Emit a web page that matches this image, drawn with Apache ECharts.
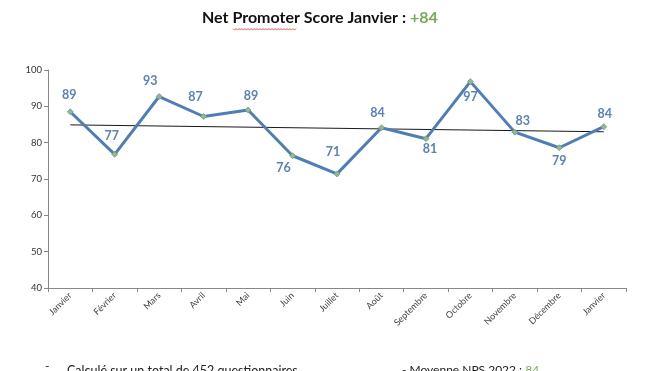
<!DOCTYPE html>
<html>
<head>
<meta charset="utf-8">
<script src="https://cdn.jsdelivr.net/npm/echarts@6/dist/echarts.min.js"></script>
<style>
html,body{margin:0;padding:0;background:#fff;}
#c{width:660px;height:371px;}
</style>
</head>
<body>
<div id="c"></div>
<script>
// Data
var months = ['Janvier','Février','Mars','Avril','Mai','Juin','Juillet','Août','Septembre','Octobre','Novembre','Décembre','Janvier'];
var npsValues = [88.5, 76.8, 92.7, 87.2, 89.0, 76.4, 71.4, 84.1, 81.1, 96.8, 82.9, 78.6, 84.4];
var trendValues = [84.9, null, null, null, null, null, null, null, null, null, null, null, 83.0];
var yTicks = [40, 50, 60, 70, 80, 90, 100];
var titleText = 'Net Promoter Score Janvier : ';
var titleScore = '+84';
var noteLeft = 'Calculé sur un total de 452 questionnaires';
var noteRightText = '- Moyenne NPS 2022 : ';
var noteRightValue = '84';

// Label offsets (style, not data)
var labelOffsets = [[-1,-17],[-3,-18],[-9,-16],[-8,-20],[3,-14],[-9,12],[-4,-22],[-4,-15],[4,10],[0,15],[8,-11],[0,13],[1,-13]];

var FONT = 'Lato, "Open Sans", sans-serif';
var chart = echarts.init(document.getElementById('c'), null, {renderer:'canvas'});

var lineData = npsValues.map(function(v, i){
  return {
    value: v,
    label: {offset: labelOffsets[i]}
  };
});

// red wavy underline under "Promoter"
var wave = [];
for (var x = 233, k = 0; x <= 297; x += 1.5, k++) {
  wave.push([x, 28.5 + (k % 2 === 0 ? 0 : 1.6)]);
}

chart.setOption({
  backgroundColor: '#ffffff',
  animation: false,
  title: {
    text: '{a|' + titleText + '}{g|' + titleScore + '}',
    left: 202,
    top: 10,
    padding: 0,
    textStyle: {
      rich: {
        a: {fontFamily: FONT, fontSize: 16, fontWeight: 'bold', color: '#111111'},
        g: {fontFamily: FONT, fontSize: 16, fontWeight: 'bold', color: '#77AB59'}
      }
    }
  },
  grid: {left: 48, right: 34, top: 70, bottom: 83, containLabel: false},
  xAxis: {
    type: 'category',
    data: months,
    boundaryGap: true,
    axisLine: {lineStyle: {color: '#888888', width: 1}},
    axisTick: {show: true, length: 4, lineStyle: {color: '#888888'}, alignWithLabel: false},
    axisLabel: {
      rotate: 45,
      interval: 0,
      fontFamily: FONT,
      fontSize: 9,
      color: '#404040',
      margin: 6
    },
    splitLine: {show: false}
  },
  yAxis: {
    type: 'value',
    min: yTicks[0],
    max: yTicks[yTicks.length - 1],
    interval: 10,
    axisLine: {show: true, lineStyle: {color: '#888888', width: 1}},
    axisTick: {show: true, length: 4, lineStyle: {color: '#888888'}},
    axisLabel: {fontFamily: FONT, fontSize: 9.5, color: '#333333', margin: 6},
    splitLine: {show: false}
  },
  series: [
    {
      name: 'Tendance',
      type: 'line',
      data: trendValues,
      connectNulls: true,
      symbol: 'none',
      lineStyle: {color: '#1a1a1a', width: 1},
      z: 3,
      silent: true
    },
    {
      name: 'NPS',
      type: 'line',
      data: lineData,
      symbol: 'diamond',
      symbolSize: 6,
      itemStyle: {color: '#93B88C', borderColor: '#6E9A8A', borderWidth: 0.8},
      lineStyle: {color: '#4F7DB8', width: 3},
      z: 4,
      label: {
        show: true,
        position: 'inside',
        formatter: function(p){ return Math.round(p.value); },
        fontFamily: FONT,
        fontSize: 12.5,
        fontWeight: 'bold',
        color: '#5A82B8'
      }
    }
  ],
  graphic: [
    {
      type: 'polyline',
      shape: {points: wave},
      style: {stroke: '#D83A3A', lineWidth: 0.8, fill: null},
      silent: true
    },
    {
      type: 'text',
      left: 45,
      top: 360,
      style: {text: '-', font: '12px ' + FONT, fill: '#222222'}
    },
    {
      type: 'text',
      left: 67,
      top: 364,
      style: {text: noteLeft, font: '12.5px ' + FONT, fill: '#222222'}
    },
    {
      type: 'text',
      left: 402,
      top: 364,
      style: {
        text: '{a|' + noteRightText + '}{g|' + noteRightValue + '}',
        rich: {
          a: {fontFamily: FONT, fontSize: 12, fill: '#222222', color: '#222222'},
          g: {fontFamily: FONT, fontSize: 12, fill: '#77AB59', color: '#77AB59'}
        }
      }
    }
  ]
});
</script>
</body>
</html>
